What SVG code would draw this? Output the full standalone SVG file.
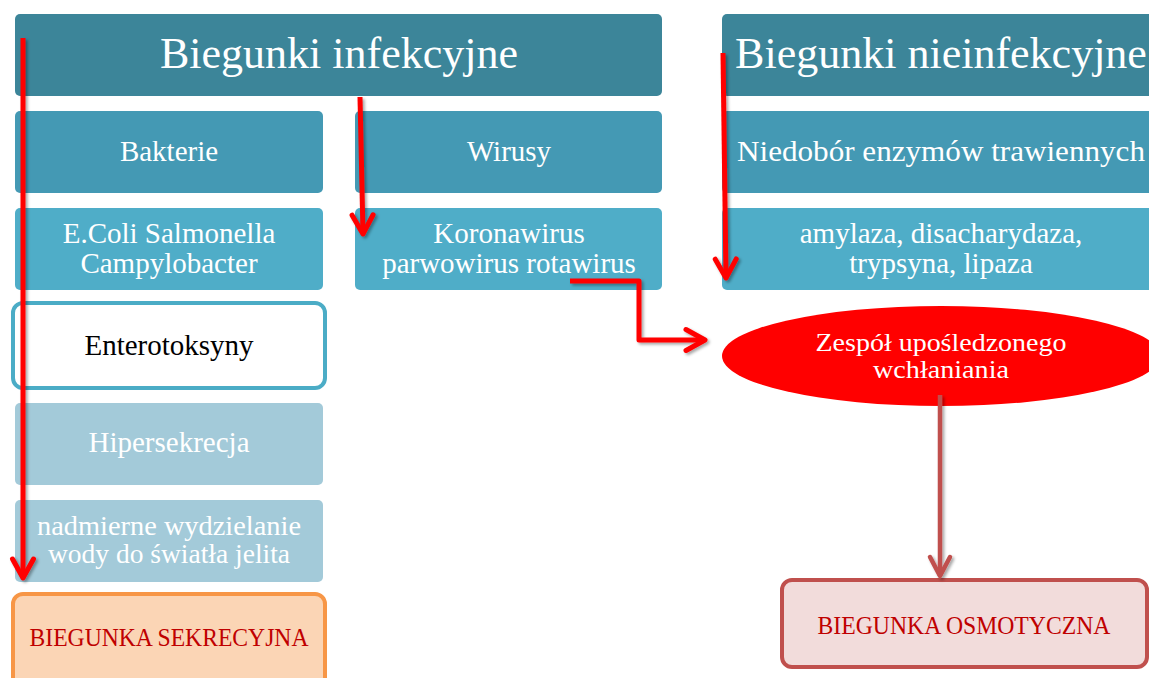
<svg xmlns="http://www.w3.org/2000/svg" width="1149" height="678" viewBox="0 0 1149 678">
<style>
text{font-family:"Liberation Serif","Times New Roman",serif;text-anchor:middle}
.h{fill:#3c8599}
.l1{fill:#4499b4}
.l2{fill:#4fadc8}
.l3{fill:#a3cad9}
.tw{fill:#ffffff}
.th{font-size:44px}
.tb{font-size:29px}
.tc{font-size:25px;fill:#c00000}
.ar{fill:none;stroke:#ff0000;stroke-width:5;stroke-linejoin:round}
</style>
<defs>
<marker id="ah" markerUnits="userSpaceOnUse" viewBox="-24 -14 28 28" refX="0" refY="0" markerWidth="28" markerHeight="28" orient="auto">
<path d="M-19,-10.5 L0,0 L-19,10.5" fill="none" stroke="#ff0000" stroke-width="5" stroke-linecap="round" stroke-linejoin="round"/>
</marker>
<marker id="ah2" markerUnits="userSpaceOnUse" viewBox="-24 -14 28 28" refX="0" refY="0" markerWidth="28" markerHeight="28" orient="auto">
<path d="M-19,-10 L0,0 L-19,10" fill="none" stroke="#c0504d" stroke-width="4.5" stroke-linecap="round" stroke-linejoin="round"/>
</marker>
<filter id="sh" x="-20%" y="-20%" width="140%" height="140%">
<feDropShadow dx="2" dy="2" stdDeviation="1.5" flood-color="#000" flood-opacity="0.35"/>
</filter>
</defs>

<g id="n-infekcyjne"><rect class="h" x="15" y="14" width="647" height="82" rx="5"/><text class="tw th" x="339" y="68">Biegunki infekcyjne</text></g>
<g id="n-nieinfekcyjne"><rect class="h" x="722" y="14" width="440" height="82" rx="5"/><text class="tw th" x="941" y="68">Biegunki nieinfekcyjne</text></g>

<g id="n-bakterie"><rect class="l1" x="15" y="111" width="308" height="82" rx="5"/><text class="tw tb" x="169" y="161">Bakterie</text></g>
<g id="n-wirusy"><rect class="l1" x="355" y="111" width="307" height="82" rx="5"/><text class="tw tb" x="509" y="161">Wirusy</text></g>
<g id="n-niedobor"><rect class="l1" x="722" y="111" width="440" height="82" rx="5"/><text class="tw tb" x="941" y="161" textLength="408" lengthAdjust="spacingAndGlyphs">Niedobór enzymów trawiennych</text></g>

<g id="n-ecoli"><rect class="l2" x="15" y="208" width="308" height="82" rx="5"/><text class="tw tb" x="169" y="243">E.Coli Salmonella</text><text class="tw tb" x="169" y="273">Campylobacter</text></g>
<g id="n-korona"><rect class="l2" x="355" y="208" width="307" height="82" rx="5"/><text class="tw tb" x="509" y="243">Koronawirus</text><text class="tw tb" x="509" y="273">parwowirus rotawirus</text></g>
<g id="n-amylaza"><rect class="l2" x="722" y="208" width="440" height="82" rx="5"/><text class="tw tb" x="941" y="243">amylaza, disacharydaza,</text><text class="tw tb" x="941" y="273">trypsyna, lipaza</text></g>

<g id="n-enterotoksyny"><rect x="13" y="303" width="312" height="85" rx="10" fill="#ffffff" stroke="#4bacc6" stroke-width="4"/><text class="tb" x="169" y="355" fill="#000000">Enterotoksyny</text></g>
<g id="n-hipersekrecja"><rect class="l3" x="15" y="403" width="308" height="82" rx="5"/><text class="tw tb" x="169" y="452">Hipersekrecja</text></g>
<g id="n-nadmierne"><rect class="l3" x="15" y="500" width="308" height="82" rx="5"/><text class="tw" font-size="27" x="169" y="535" textLength="264" lengthAdjust="spacingAndGlyphs">nadmierne wydzielanie</text><text class="tw" font-size="27" x="169" y="563" textLength="242" lengthAdjust="spacingAndGlyphs">wody do światła jelita</text></g>
<g id="n-sekrecyjna"><rect x="13" y="594" width="312" height="100" rx="10" fill="#fbd5b5" stroke="#f79646" stroke-width="4"/><text class="tc" x="169" y="646" textLength="279" lengthAdjust="spacingAndGlyphs">BIEGUNKA SEKRECYJNA</text></g>

<g id="n-zespol"><ellipse cx="941" cy="356" rx="219" ry="50" fill="#ff0000"/><text class="tw" font-size="25.5" x="941" y="351" textLength="251" lengthAdjust="spacingAndGlyphs">Zespół upośledzonego</text><text class="tw" font-size="25.5" x="941" y="378" textLength="136" lengthAdjust="spacingAndGlyphs">wchłaniania</text></g>
<g id="n-osmotyczna"><rect x="782" y="580" width="365" height="87" rx="10" fill="#f2dcdb" stroke="#c0504d" stroke-width="4"/><text class="tc" x="964" y="634" textLength="293" lengthAdjust="spacingAndGlyphs">BIEGUNKA OSMOTYCZNA</text></g>

<g id="connectors" filter="url(#sh)">
<path class="ar" d="M23,38 L23,578" marker-end="url(#ah)"/>
<path class="ar" d="M360,97 L363,234" marker-end="url(#ah)"/>
<path class="ar" d="M723,53 L726,278" marker-end="url(#ah)"/>
<path class="ar" d="M570,281 L639,281 L639,340 L705,340" marker-end="url(#ah)"/>
<path d="M940,395 L940,576" fill="none" stroke="#c0504d" stroke-width="4.5" marker-end="url(#ah2)"/>
</g>
</svg>
